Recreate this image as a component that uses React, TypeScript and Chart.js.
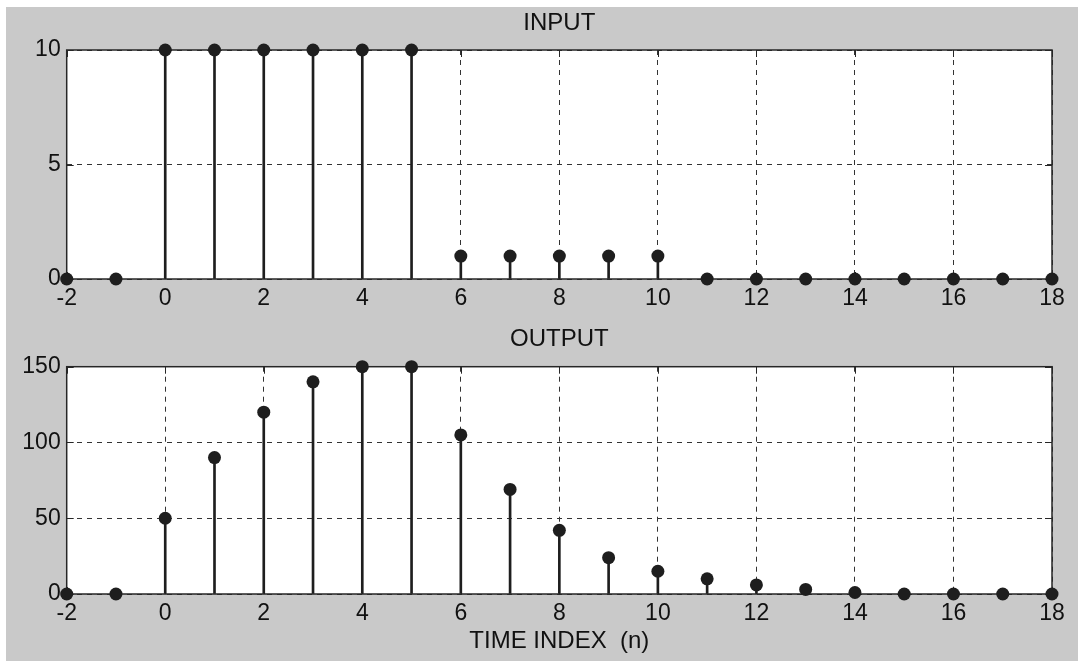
import React, { useEffect, useRef } from "react";
import { Chart, registerables } from "chart.js";

Chart.register(...registerables);

// ---- data ----
const N = [-2, -1, 0, 1, 2, 3, 4, 5, 6, 7, 8, 9, 10, 11, 12, 13, 14, 15, 16, 17, 18];
const INPUT = [0, 0, 10, 10, 10, 10, 10, 10, 1, 1, 1, 1, 1, 0, 0, 0, 0, 0, 0, 0, 0];
const OUTPUT = [0, 0, 50, 90, 120, 140, 150, 150, 105, 69, 42, 24, 15, 10, 6, 3, 1, 0, 0, 0, 0];
const X_TICKS = [-2, 0, 2, 4, 6, 8, 10, 12, 14, 16, 18];
const INPUT_Y_TICKS = [0, 5, 10];
const OUTPUT_Y_TICKS = [0, 50, 100, 150];
const INPUT_TITLE = "INPUT";
const OUTPUT_TITLE = "OUTPUT";
const X_LABEL = "TIME INDEX  (n)";

const FONT = "'Liberation Sans', Arial, Helvetica, sans-serif";
const INK = "#1e1e1e";
const TEXT = "#111111";
const GRAY = "#c9c9c9";
const TICK_LEN = 7;

const framePlugin = {
  id: "matlabFrame",
  beforeDraw(chart: any) {
    const { ctx, chartArea: a } = chart;
    ctx.save();
    ctx.fillStyle = "#ffffff";
    ctx.fillRect(a.left, a.top, a.right - a.left, a.bottom - a.top);
    ctx.restore();
  },
  beforeDatasetsDraw(chart: any) {
    const { ctx, chartArea: a, scales } = chart;
    ctx.save();
    ctx.strokeStyle = "#262626";
    ctx.lineWidth = 1.5;
    ctx.setLineDash([]);
    ctx.strokeRect(a.left, a.top, a.right - a.left, a.bottom - a.top);
    ctx.lineWidth = 1;
    ctx.beginPath();
    scales.x.ticks.forEach((t: any) => {
      const px = Math.round(scales.x.getPixelForValue(t.value)) + 0.5;
      ctx.moveTo(px, a.bottom);
      ctx.lineTo(px, a.bottom - TICK_LEN);
      ctx.moveTo(px, a.top);
      ctx.lineTo(px, a.top + TICK_LEN);
    });
    scales.y.ticks.forEach((t: any) => {
      const py = Math.round(scales.y.getPixelForValue(t.value)) + 0.5;
      ctx.moveTo(a.left, py);
      ctx.lineTo(a.left + TICK_LEN, py);
      ctx.moveTo(a.right, py);
      ctx.lineTo(a.right - TICK_LEN, py);
    });
    ctx.stroke();
    ctx.restore();
  },
};

type PanelOpts = {
  values: number[];
  title: string;
  yTicks: number[];
  xHeight: number;
  titlePad: { top: number; bottom: number };
  xLabel?: string;
};

function makeConfig(o: PanelOpts): any {
  const pts = N.map((n, i) => ({ x: n, y: o.values[i] }));
  const yMax = o.yTicks[o.yTicks.length - 1];
  return {
    data: {
      datasets: [
        {
          type: "scatter",
          data: pts,
          pointRadius: 6.5,
          pointHoverRadius: 6.5,
          pointBackgroundColor: INK,
          pointBorderColor: INK,
          pointBorderWidth: 0,
          clip: false,
          order: 0,
        },
        {
          type: "bar",
          data: pts,
          backgroundColor: INK,
          borderWidth: 0,
          barThickness: 2,
          order: 1,
        },
      ],
    },
    options: {
      responsive: false,
      animation: false,
      devicePixelRatio: 1,
      layout: { padding: { left: 0, right: 26, top: 0, bottom: 0 } },
      plugins: {
        legend: { display: false },
        tooltip: { enabled: false },
        title: {
          display: true,
          text: o.title,
          fullSize: false,
          color: TEXT,
          font: { family: FONT, size: 24, weight: "normal" },
          padding: o.titlePad,
        },
      },
      scales: {
        x: {
          type: "linear",
          min: -2,
          max: 18,
          offset: false,
          afterBuildTicks: (s: any) => {
            s.ticks = X_TICKS.map((v) => ({ value: v }));
          },
          afterFit: (s: any) => {
            s.height = o.xHeight;
          },
          grid: { color: "#333333", lineWidth: 1, drawTicks: false, offset: false },
          border: { display: false, dash: [5, 5] },
          ticks: {
            color: TEXT,
            font: { family: FONT, size: 23 },
            padding: 6,
            maxRotation: 0,
            autoSkip: false,
          },
          title: o.xLabel
            ? {
                display: true,
                text: o.xLabel,
                color: TEXT,
                font: { family: FONT, size: 24 },
                padding: { top: 0, bottom: 5 },
              }
            : { display: false },
        },
        y: {
          type: "linear",
          min: 0,
          max: yMax,
          afterBuildTicks: (s: any) => {
            s.ticks = o.yTicks.map((v) => ({ value: v }));
          },
          afterFit: (s: any) => {
            s.width = 60.7;
          },
          grid: { color: "#333333", lineWidth: 1, drawTicks: false },
          border: { display: false, dash: [5, 5] },
          ticks: {
            color: TEXT,
            font: { family: FONT, size: 23 },
            padding: 6,
          },
        },
      },
    },
    plugins: [framePlugin],
  };
}

export default function App() {
  const topRef = useRef<HTMLCanvasElement | null>(null);
  const botRef = useRef<HTMLCanvasElement | null>(null);

  useEffect(() => {
    const c1 = new Chart(
      topRef.current as HTMLCanvasElement,
      makeConfig({
        values: INPUT,
        title: INPUT_TITLE,
        yTicks: INPUT_Y_TICKS,
        xHeight: 46,
        titlePad: { top: 2, bottom: 12.2 },
      })
    );
    const c2 = new Chart(
      botRef.current as HTMLCanvasElement,
      makeConfig({
        values: OUTPUT,
        title: OUTPUT_TITLE,
        yTicks: OUTPUT_Y_TICKS,
        xHeight: 67,
        titlePad: { top: 0, bottom: 12.9 },
        xLabel: X_LABEL,
      })
    );
    return () => {
      c1.destroy();
      c2.destroy();
    };
  }, []);

  return (
    <div
      style={{
        position: "absolute",
        left: 0,
        top: 0,
        width: 1078,
        height: 661,
        background: "#ffffff",
        overflow: "hidden",
      }}
    >
      <div
        style={{
          position: "absolute",
          left: 6,
          top: 7,
          width: 1072,
          height: 654,
          background: GRAY,
        }}
      >
        <canvas
          ref={topRef}
          width={1072}
          height={318}
          style={{ position: "absolute", left: 0, top: 0, display: "block" }}
        />
        <canvas
          ref={botRef}
          width={1072}
          height={336}
          style={{ position: "absolute", left: 0, top: 318, display: "block" }}
        />
      </div>
    </div>
  );
}
